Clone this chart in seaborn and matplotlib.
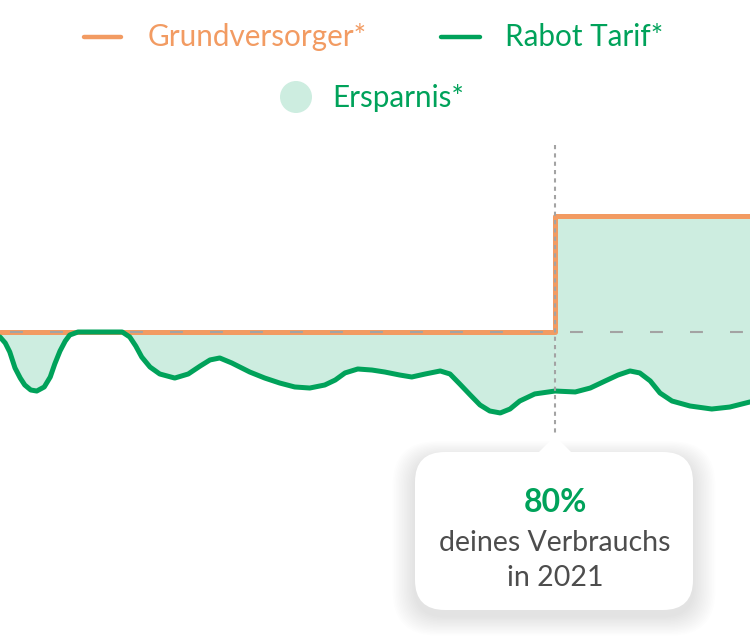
import numpy as np
import matplotlib
matplotlib.use("Agg")
import matplotlib.pyplot as plt
import seaborn as sns
from matplotlib.patches import FancyBboxPatch, Polygon, Ellipse
from matplotlib.lines import Line2D

# ── Data ───────────────────────────────────────────────────────
# x: share of the period (0-100), y: price in ct/kWh
rabot_x = [0, 0.7, 1.3, 2.0, 2.7, 3.3, 4.1, 4.9, 5.9, 6.7, 7.3, 8.0, 8.7, 9.3,
           10.4, 12.0, 14.7, 16.3, 17.3, 18.1, 18.9, 20.0, 21.3, 23.3, 25.1,
           26.7, 28.0, 29.3, 30.9, 33.3, 35.3, 37.3, 39.3, 41.3, 43.3, 44.7,
           46.0, 47.7, 49.6, 51.3, 53.3, 54.9, 56.7, 58.7, 60.0, 61.3, 62.7,
           64.0, 65.3, 66.7, 68.0, 69.3, 71.3, 74.0, 76.7, 78.7, 80.7, 82.4,
           84.0, 85.3, 86.7, 88.0, 89.6, 92.0, 94.9, 97.3, 98.9, 100.0]
rabot_y = [31.57, 31.05, 30.28, 28.90, 28.03, 27.43, 27.00, 26.91, 27.26, 28.12,
           29.24, 30.36, 31.22, 31.74, 32.00, 32.00, 32.00, 32.00, 31.57, 30.79,
           29.84, 28.98, 28.38, 28.03, 28.38, 29.07, 29.59, 29.76, 29.33, 28.55,
           28.03, 27.60, 27.26, 27.17, 27.43, 27.86, 28.47, 28.81, 28.72, 28.55,
           28.29, 28.12, 28.38, 28.64, 28.38, 27.52, 26.57, 25.71, 25.19, 25.02,
           25.36, 26.05, 26.66, 26.91, 26.83, 27.17, 27.78, 28.29, 28.64, 28.47,
           27.78, 26.74, 26.05, 25.62, 25.36, 25.53, 25.79, 25.97]
grund_x = [0, 74, 100]
grund_y = [32, 42, 42]
switch_x = 74            # 80% of 2021 consumption reached here
old_price = 32

ORANGE = "#F29B62"
GREEN = "#00A25A"
FILL = "#CDEDE0"
GREY = "#A3A3A3"
TEXT = "#4D4D4D"

sns.set_theme(style="white")
plt.rcParams["font.family"] = ["Lato", "DejaVu Sans"]

fig = plt.figure(figsize=(7.5, 6.38), dpi=100)
ax = fig.add_axes([0, 0, 1, 1])
ax.set_xlim(0, 100)
ax.set_ylim(5.62, 60.62)
ax.axis("off")

# ── Savings area ───────────────────────────────────────────────
rx = np.array(rabot_x)
ry = np.array(rabot_y)
left = rx <= switch_x
right = rx >= switch_x
ax.fill_between(rx[left], ry[left], grund_y[0], color=FILL, lw=0, zorder=1)
ax.fill_between(rx[right], ry[right], grund_y[-1], color=FILL, lw=0, zorder=1)

# ── Lines ──────────────────────────────────────────────────────
sns.lineplot(x=grund_x, y=grund_y, ax=ax, color=ORANGE, lw=3.6,
             drawstyle="steps-post", zorder=2)
ax.axhline(old_price, color=GREY, lw=1.5, ls=(14.4, (6.2, 13)), zorder=3)
sns.lineplot(x=rabot_x, y=rabot_y, ax=ax, color=GREEN, lw=3.6, zorder=4,
             solid_capstyle="round", solid_joinstyle="round")
ax.plot([switch_x, switch_x], [48.1, 23.0], color=GREY, lw=1.5,
        ls=(0, (2, 2)), zorder=5)

# ── Overlay in pixel units for legend and callout ──────────────
ov = fig.add_axes([0, 0, 1, 1], facecolor="none")
ov.set_xlim(0, 750)
ov.set_ylim(638, 0)
ov.axis("off")

# legend
ov.add_line(Line2D([84, 121], [37, 37], color=ORANGE, lw=3.2, solid_capstyle="round"))
ov.text(148, 46, "Grundversorger*", color=ORANGE, fontsize=21.3, va="baseline")
ov.add_line(Line2D([441, 480], [37, 37], color=GREEN, lw=3.2, solid_capstyle="round"))
ov.text(505, 46, "Rabot Tarif*", color=GREEN, fontsize=21.3, va="baseline")
ov.add_patch(Ellipse((296, 97), 32, 32, color=FILL, lw=0))
ov.text(332, 107, "Ersparnis*", color=GREEN, fontsize=21.3, va="baseline")

# callout with soft shadow
bx, by, bw, bh, r = 415, 452, 278, 158, 30
for i in range(14, 0, -1):
    ov.add_patch(FancyBboxPatch((bx - i * 1.6, by - i * 1.2 + 6), bw + i * 3.2, bh + i * 2.6,
                                boxstyle=f"round,pad=0,rounding_size={r + i}",
                                fc="black", ec="none", alpha=0.009, zorder=5))
ov.add_patch(FancyBboxPatch((bx, by), bw, bh, boxstyle=f"round,pad=0,rounding_size={r}",
                            fc="white", ec="none", zorder=6))
ov.add_patch(Polygon([(538, 453), (555, 436), (572, 453)], closed=True,
                     fc="white", ec="none", zorder=6))
ov.text(555, 512, "80%", color=GREEN, fontsize=23, fontweight="bold",
        ha="center", va="baseline", zorder=7)
ov.text(555, 551, "deines Verbrauchs", color=TEXT, fontsize=20.5,
        ha="center", va="baseline", zorder=7)
ov.text(555, 586, "in 2021", color=TEXT, fontsize=20.5,
        ha="center", va="baseline", zorder=7)

fig.savefig("out.png", dpi=100)
